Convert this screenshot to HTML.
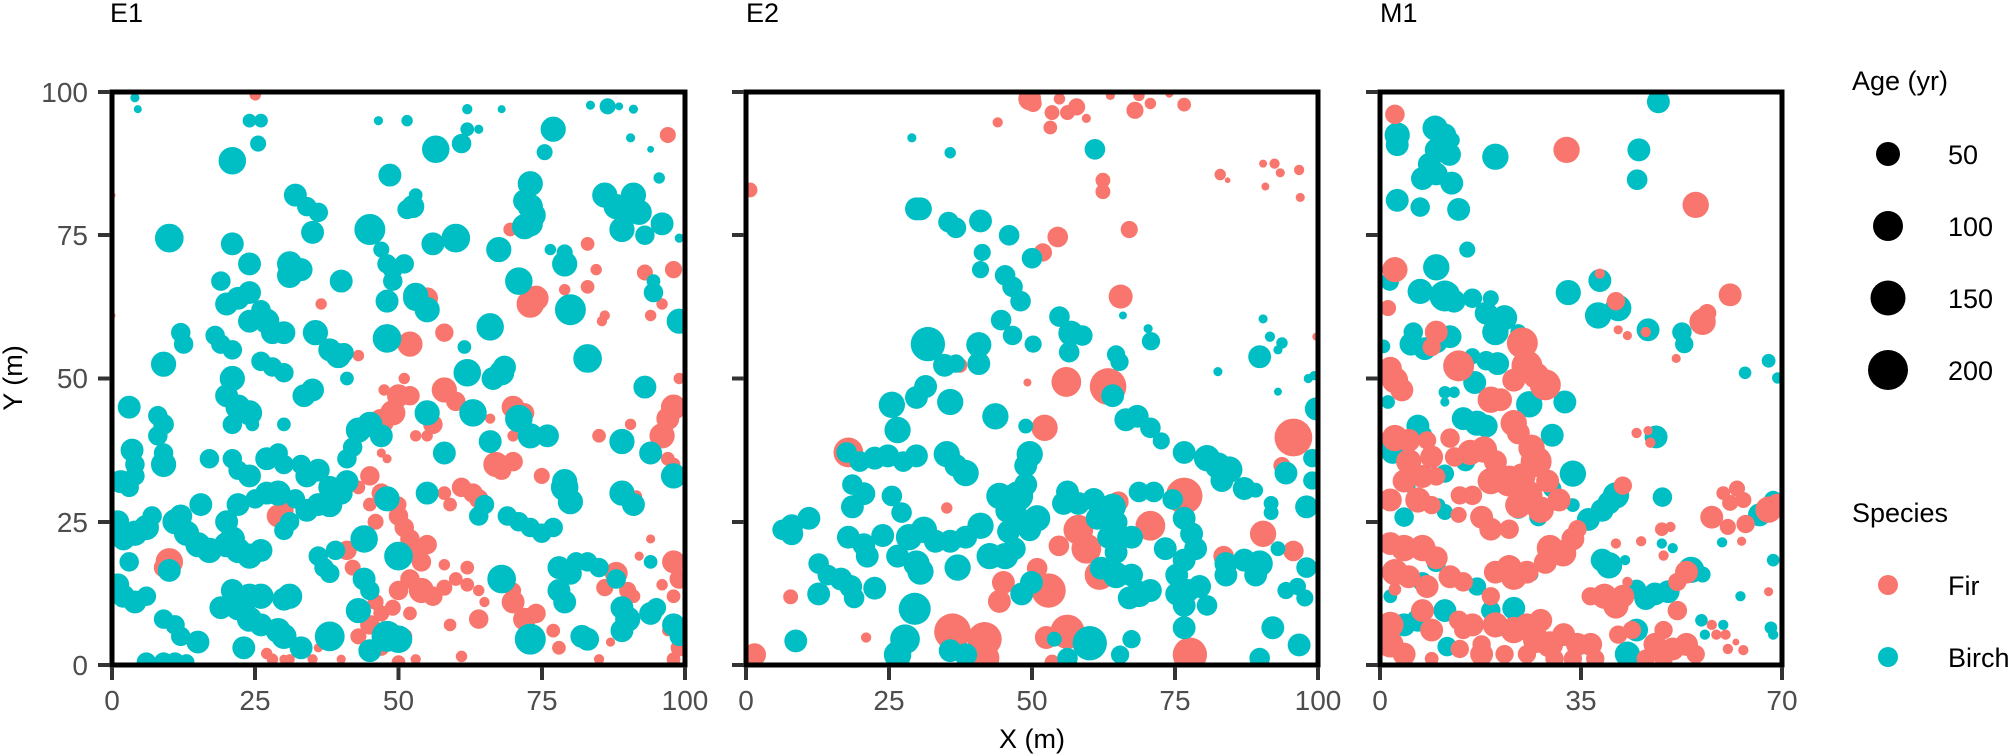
<!DOCTYPE html>
<html><head><meta charset="utf-8"><style>
html,body{margin:0;padding:0;background:#fff;}
svg{display:block;font-family:"Liberation Sans",Arial,sans-serif;}
.t{fill:#4d4d4d;font-size:28px;}
.h{fill:#000;font-size:27px;}
.r circle{fill:#F8766D}
.b circle{fill:#00BFC4}
.e1 .r circle{stroke:#F8766D;stroke-width:0.4}
.e1 .b circle{stroke:#00BFC4;stroke-width:0.4}
</style></head><body>
<svg width="2012" height="756" viewBox="0 0 2012 756" xmlns="http://www.w3.org/2000/svg">
<defs>
<clipPath id="c1"><rect x="112" y="92" width="573" height="573"/></clipPath>
<clipPath id="c2"><rect x="746" y="92" width="572" height="573"/></clipPath>
<clipPath id="c3"><rect x="1380" y="92" width="402" height="573"/></clipPath>
</defs>
<rect width="2012" height="756" fill="#fff"/>

<!-- E1 -->
<g clip-path="url(#c1)"><g class="e1" transform="translate(112,665) scale(5.73,-5.73)">
<g class="r">
<circle cx="25" cy="99.5" r="0.8"/><circle cx="0" cy="82" r="0.4"/><circle cx="0" cy="61" r="0.4"/><circle cx="97" cy="92.5" r="1.2"/>
<circle cx="83" cy="73.5" r="1"/><circle cx="84.5" cy="69" r="0.8"/><circle cx="83" cy="66" r="1"/><circle cx="79" cy="65.5" r="0.8"/><circle cx="93" cy="68.5" r="1.2"/><circle cx="98" cy="69" r="1.3"/><circle cx="94" cy="61" r="0.8"/><circle cx="96" cy="63" r="0.8"/><circle cx="86" cy="61" r="0.7"/><circle cx="85.5" cy="60" r="0.7"/>
<circle cx="73" cy="63" r="2.2"/><circle cx="74" cy="64" r="2"/><circle cx="69.5" cy="76" r="1"/>
<circle cx="36.5" cy="63" r="0.8"/><circle cx="55" cy="64" r="1.7"/><circle cx="52" cy="56" r="2"/><circle cx="58" cy="58" r="1.4"/><circle cx="43" cy="54" r="0.8"/><circle cx="39" cy="55" r="0.8"/>
<circle cx="51" cy="50" r="0.8"/><circle cx="47.5" cy="48" r="0.8"/><circle cx="50" cy="47" r="1.8"/><circle cx="52" cy="47" r="1.5"/><circle cx="58" cy="48" r="2"/><circle cx="60" cy="46" r="1.5"/><circle cx="55" cy="44" r="1.8"/><circle cx="49" cy="44" r="2"/><circle cx="47" cy="42.5" r="2"/><circle cx="56" cy="42" r="1.5"/><circle cx="53" cy="40" r="0.8"/><circle cx="55" cy="40" r="0.8"/><circle cx="66" cy="43" r="0.7"/>
<circle cx="70" cy="45" r="1.8"/><circle cx="72" cy="44" r="1.5"/><circle cx="70" cy="40" r="0.8"/><circle cx="70" cy="35.5" r="1.5"/><circle cx="68" cy="34" r="1.5"/><circle cx="67" cy="35" r="2"/><circle cx="75" cy="33" r="1.2"/>
<circle cx="85" cy="40" r="1"/><circle cx="89" cy="40" r="1"/><circle cx="90.5" cy="42" r="0.8"/><circle cx="97" cy="43" r="1.8"/><circle cx="96" cy="40" r="2"/><circle cx="98" cy="45" r="2"/><circle cx="99" cy="50" r="0.8"/><circle cx="98" cy="35" r="1"/><circle cx="97" cy="36" r="1"/><circle cx="91.5" cy="29.5" r="0.8"/>
<circle cx="29" cy="26" r="1.8"/><circle cx="30" cy="27" r="1.5"/>
<circle cx="43" cy="31" r="1"/><circle cx="45" cy="33" r="1.5"/><circle cx="47" cy="30" r="1.5"/><circle cx="45" cy="28" r="1"/><circle cx="50" cy="26" r="1.5"/><circle cx="51" cy="24" r="1.5"/><circle cx="52" cy="22" r="1.5"/><circle cx="53" cy="20" r="2"/><circle cx="55" cy="21" r="1.5"/><circle cx="54" cy="18" r="1.5"/><circle cx="52" cy="15" r="1.5"/><circle cx="54" cy="13" r="2"/><circle cx="56" cy="12" r="1.5"/><circle cx="50" cy="13" r="1.5"/><circle cx="46" cy="11" r="1.2"/><circle cx="47" cy="9" r="1.2"/><circle cx="49" cy="10" r="1.2"/><circle cx="52" cy="9" r="1"/><circle cx="48" cy="36" r="0.6"/><circle cx="47" cy="37" r="0.6"/><circle cx="50" cy="28" r="1.2"/><circle cx="46" cy="25" r="1.2"/><circle cx="58" cy="30" r="1"/><circle cx="59" cy="28" r="1"/><circle cx="61" cy="31" r="1.5"/><circle cx="63" cy="30" r="1.5"/><circle cx="64" cy="29" r="1.5"/>
<circle cx="41" cy="20" r="1.5"/><circle cx="42" cy="17" r="1.2"/><circle cx="45" cy="7" r="1.5"/><circle cx="43" cy="5" r="1.2"/><circle cx="47" cy="3" r="1.2"/><circle cx="51" cy="5" r="1.2"/><circle cx="50" cy="0.5" r="1"/><circle cx="53" cy="1" r="0.7"/><circle cx="58" cy="13.5" r="1.2"/><circle cx="60" cy="15" r="1"/><circle cx="62" cy="14" r="1"/><circle cx="64" cy="13" r="0.8"/><circle cx="58" cy="17.5" r="0.8"/><circle cx="62" cy="17" r="1"/><circle cx="65" cy="11" r="0.7"/>
<circle cx="64" cy="8" r="1.5"/><circle cx="59" cy="7" r="0.9"/><circle cx="61" cy="1.5" r="0.8"/><circle cx="70" cy="11" r="1.8"/><circle cx="72" cy="8" r="1.8"/><circle cx="74" cy="9" r="1.5"/><circle cx="77" cy="6" r="1"/><circle cx="78" cy="3" r="1"/><circle cx="70" cy="13" r="1.2"/>
<circle cx="10" cy="18" r="2.2"/><circle cx="9" cy="17" r="1.5"/>
<circle cx="27" cy="2" r="0.8"/><circle cx="28" cy="1" r="0.8"/><circle cx="30" cy="1" r="0.6"/><circle cx="31" cy="1" r="0.7"/><circle cx="35" cy="1" r="0.7"/><circle cx="36" cy="3" r="0.6"/><circle cx="40" cy="1" r="0.6"/>
<circle cx="86" cy="13.5" r="1.3"/><circle cx="88" cy="16" r="1.8"/><circle cx="90" cy="13" r="1.3"/><circle cx="87" cy="4" r="0.6"/><circle cx="85" cy="1" r="0.7"/><circle cx="92" cy="19" r="0.6"/><circle cx="94" cy="22" r="0.6"/><circle cx="98" cy="18" r="1.8"/><circle cx="99" cy="15" r="1.5"/><circle cx="99" cy="3" r="1.3"/><circle cx="98" cy="1" r="1"/><circle cx="98" cy="12" r="1"/><circle cx="97" cy="6" r="0.8"/><circle cx="96" cy="14" r="0.8"/><circle cx="91" cy="12" r="1"/>
</g>
<g class="b">
<circle cx="4" cy="99" r="0.6"/><circle cx="4.5" cy="97" r="0.5"/><circle cx="24" cy="95" r="1"/><circle cx="26" cy="95" r="1"/><circle cx="25.5" cy="91" r="1.2"/><circle cx="21" cy="88" r="2.2"/><circle cx="10" cy="74.5" r="2.3"/>
<circle cx="32" cy="82" r="1.8"/><circle cx="34" cy="80" r="1.5"/><circle cx="36" cy="79" r="1.5"/><circle cx="35" cy="75.5" r="1.8"/>
<circle cx="21" cy="73.5" r="1.8"/><circle cx="24" cy="70" r="1.8"/><circle cx="19" cy="67" r="1.5"/><circle cx="20" cy="63" r="1.8"/><circle cx="22" cy="64" r="1.8"/><circle cx="24" cy="65" r="1.8"/><circle cx="26" cy="62" r="1.5"/><circle cx="27" cy="60" r="2"/><circle cx="24" cy="60" r="1.8"/><circle cx="28" cy="58" r="1.8"/><circle cx="30" cy="58" r="1.8"/>
<circle cx="31" cy="70" r="2"/><circle cx="31" cy="68" r="2"/><circle cx="33" cy="69" r="1.8"/><circle cx="40" cy="67" r="1.8"/>
<circle cx="45" cy="76" r="2.5"/><circle cx="47" cy="72.5" r="1.2"/><circle cx="48" cy="70" r="1.5"/><circle cx="49" cy="67" r="1.5"/><circle cx="48" cy="63.5" r="1.8"/><circle cx="49" cy="69" r="1.5"/><circle cx="51" cy="70" r="1.5"/>
<circle cx="48.5" cy="85.5" r="1.8"/><circle cx="53" cy="82" r="1"/><circle cx="52.5" cy="80" r="1.8"/><circle cx="51.5" cy="79.5" r="1.5"/>
<circle cx="56.5" cy="90" r="2.2"/><circle cx="61" cy="91" r="1.5"/><circle cx="62" cy="93.5" r="1"/><circle cx="62" cy="97" r="0.7"/><circle cx="64" cy="93.5" r="0.6"/><circle cx="68" cy="97" r="0.5"/><circle cx="46.5" cy="95" r="0.6"/><circle cx="51.5" cy="95" r="0.8"/>
<circle cx="56" cy="73.5" r="1.8"/><circle cx="60" cy="74.5" r="2.3"/><circle cx="53" cy="64.5" r="2"/><circle cx="55" cy="62" r="2"/>
<circle cx="67.5" cy="72.5" r="2"/><circle cx="71" cy="67" r="2.2"/><circle cx="72" cy="76.5" r="2"/><circle cx="73" cy="77" r="2"/><circle cx="73" cy="80" r="2"/><circle cx="72" cy="81" r="1.8"/><circle cx="73" cy="84" r="2"/><circle cx="73.5" cy="78.5" r="2"/>
<circle cx="75.5" cy="89.5" r="1.2"/><circle cx="77" cy="93.5" r="2"/><circle cx="76.5" cy="72.5" r="0.8"/><circle cx="79" cy="70" r="2"/><circle cx="79" cy="72" r="1.2"/><circle cx="80" cy="62" r="2.5"/>
<circle cx="86" cy="82" r="2"/><circle cx="88" cy="80" r="2"/><circle cx="90" cy="79" r="2"/><circle cx="89" cy="76" r="2"/><circle cx="91" cy="82" r="2"/><circle cx="92" cy="79" r="2"/><circle cx="93" cy="75" r="1.5"/><circle cx="96" cy="77" r="1.8"/><circle cx="94.5" cy="65" r="1.5"/><circle cx="94.5" cy="67" r="1"/><circle cx="95.5" cy="85" r="0.8"/><circle cx="99" cy="74.5" r="0.6"/><circle cx="99" cy="60" r="2"/>
<circle cx="86.5" cy="97.5" r="1.2"/><circle cx="83.5" cy="97.7" r="0.6"/><circle cx="88.5" cy="97.5" r="0.5"/><circle cx="91" cy="97" r="0.6"/><circle cx="90.5" cy="92" r="0.6"/><circle cx="94" cy="90" r="0.4"/>
<circle cx="83" cy="53.5" r="2.3"/><circle cx="61.5" cy="55.5" r="1"/><circle cx="62" cy="51" r="2.2"/><circle cx="66" cy="59" r="2.2"/><circle cx="68" cy="51" r="2"/><circle cx="68.5" cy="52" r="1.8"/><circle cx="66.5" cy="50" r="1.8"/>
<circle cx="48" cy="57" r="2.3"/><circle cx="53" cy="64" r="2"/>
<circle cx="35.5" cy="58" r="2"/><circle cx="38" cy="55" r="1.8"/><circle cx="39.5" cy="54" r="2"/><circle cx="41" cy="50" r="1"/><circle cx="40.5" cy="54.5" r="1.5"/><circle cx="33.5" cy="47" r="1.8"/><circle cx="35" cy="48" r="1.8"/><circle cx="30" cy="51" r="1.5"/><circle cx="28" cy="52" r="1.5"/><circle cx="26" cy="53" r="1.5"/>
<circle cx="9" cy="52.5" r="2"/><circle cx="12.5" cy="56" r="1.5"/><circle cx="12" cy="58" r="1.5"/><circle cx="18" cy="57.5" r="1.5"/><circle cx="19" cy="56" r="1.5"/><circle cx="21" cy="55" r="1.5"/><circle cx="21" cy="50" r="2"/><circle cx="20" cy="47" r="1.8"/><circle cx="22" cy="45" r="2"/><circle cx="24" cy="44" r="2"/><circle cx="21" cy="42" r="1.5"/><circle cx="24.5" cy="42" r="1"/><circle cx="30" cy="42" r="1"/>
<circle cx="3" cy="45" r="1.8"/><circle cx="8" cy="43.5" r="1.5"/><circle cx="9" cy="42" r="1.6"/><circle cx="8" cy="40" r="1.5"/><circle cx="9" cy="37" r="1.5"/><circle cx="3.5" cy="37.5" r="1.8"/><circle cx="4" cy="35" r="1.5"/><circle cx="9" cy="35" r="2"/><circle cx="1.5" cy="32" r="1.8"/><circle cx="3" cy="31" r="1.5"/><circle cx="4" cy="33" r="1.5"/>
<circle cx="17" cy="36" r="1.5"/><circle cx="21" cy="36" r="1.5"/><circle cx="22" cy="34" r="1.5"/><circle cx="24" cy="33" r="1.8"/><circle cx="27" cy="36" r="1.8"/><circle cx="29" cy="37" r="1.5"/><circle cx="30" cy="35" r="1.5"/><circle cx="33" cy="35" r="1.5"/><circle cx="34" cy="33" r="1.8"/><circle cx="36" cy="34" r="1.8"/><circle cx="38" cy="31" r="1.8"/><circle cx="40" cy="30" r="1.8"/><circle cx="41" cy="32" r="1.8"/><circle cx="41" cy="36" r="1.5"/><circle cx="42" cy="38" r="1.5"/><circle cx="43" cy="41" r="2"/><circle cx="45" cy="42" r="2"/><circle cx="47" cy="40" r="1.8"/>
<circle cx="15.5" cy="28" r="1.8"/><circle cx="20" cy="25" r="1.8"/><circle cx="22" cy="28" r="1.8"/><circle cx="25" cy="29" r="1.5"/><circle cx="27" cy="30" r="1.8"/><circle cx="29" cy="30" r="2"/><circle cx="32" cy="29" r="1.5"/><circle cx="34" cy="27" r="1.8"/><circle cx="36" cy="28" r="1.8"/><circle cx="38" cy="28" r="2"/><circle cx="31" cy="25" r="1.5"/><circle cx="30" cy="23.5" r="1.5"/>
<circle cx="1" cy="25" r="1.8"/><circle cx="2" cy="22" r="1.8"/><circle cx="4" cy="23" r="2"/><circle cx="6" cy="24" r="2"/><circle cx="7" cy="26" r="1.5"/><circle cx="11" cy="25" r="2"/><circle cx="13" cy="23" r="2"/><circle cx="15" cy="21" r="2"/><circle cx="17" cy="20" r="2"/><circle cx="20" cy="21" r="2"/><circle cx="21" cy="22" r="2"/><circle cx="22" cy="20" r="2"/><circle cx="24" cy="19" r="2"/><circle cx="26" cy="20" r="1.8"/><circle cx="12" cy="26" r="1.8"/>
<circle cx="10" cy="16.5" r="1.8"/><circle cx="1" cy="14" r="1.8"/><circle cx="2" cy="12" r="1.8"/><circle cx="4" cy="11" r="1.8"/><circle cx="6" cy="12" r="1.5"/><circle cx="3" cy="18" r="1.5"/>
<circle cx="21" cy="13" r="1.8"/><circle cx="19" cy="10" r="1.8"/><circle cx="22" cy="10" r="2"/><circle cx="24" cy="12" r="2"/><circle cx="26" cy="12" r="2"/><circle cx="24" cy="8" r="2"/><circle cx="26" cy="7" r="1.8"/><circle cx="29" cy="6" r="2"/><circle cx="30" cy="5" r="2"/><circle cx="31" cy="12" r="2"/><circle cx="30" cy="11.5" r="1.8"/><circle cx="33" cy="3" r="1.8"/><circle cx="38" cy="5" r="2.4"/><circle cx="23" cy="3" r="1.8"/>
<circle cx="9" cy="8" r="1.5"/><circle cx="11" cy="7" r="1.5"/><circle cx="12" cy="5" r="1.5"/><circle cx="15" cy="4" r="1.8"/><circle cx="6" cy="0.5" r="1.5"/><circle cx="9" cy="0.5" r="1.5"/><circle cx="11" cy="0.5" r="1.5"/><circle cx="13" cy="0.5" r="1.2"/>
<circle cx="36" cy="19" r="1.5"/><circle cx="37" cy="17" r="1.5"/><circle cx="38" cy="16" r="1.5"/><circle cx="39" cy="20" r="1.5"/><circle cx="43" cy="9.5" r="2"/><circle cx="44" cy="15" r="1.8"/><circle cx="45" cy="13" r="1.5"/><circle cx="44" cy="22" r="2.2"/><circle cx="45" cy="2.5" r="1.8"/><circle cx="48" cy="5" r="2.5"/><circle cx="50" cy="4.5" r="2.2"/>
<circle cx="48" cy="29" r="2"/><circle cx="55" cy="30" r="1.8"/><circle cx="50" cy="19" r="2.3"/><circle cx="55" cy="44" r="2"/><circle cx="63" cy="44" r="2.2"/><circle cx="58" cy="37" r="1.8"/><circle cx="66" cy="39" r="1.8"/><circle cx="71" cy="43" r="2.2"/><circle cx="73" cy="40" r="2"/><circle cx="76" cy="40" r="1.8"/><circle cx="64" cy="26" r="1.5"/><circle cx="65" cy="28" r="1.5"/><circle cx="69" cy="26" r="1.5"/><circle cx="71" cy="25" r="1.5"/><circle cx="73" cy="24" r="1.5"/><circle cx="75" cy="23" r="1.5"/><circle cx="77" cy="24" r="1.5"/>
<circle cx="68" cy="15" r="2.3"/><circle cx="73" cy="4.5" r="2.5"/><circle cx="78" cy="17" r="1.8"/><circle cx="78" cy="13" r="1.8"/><circle cx="79" cy="11" r="1.8"/><circle cx="80" cy="16" r="1.8"/><circle cx="81" cy="18" r="1.5"/><circle cx="83" cy="18" r="1.5"/><circle cx="85" cy="17" r="1.5"/><circle cx="88" cy="15" r="1.5"/><circle cx="82" cy="5" r="1.8"/><circle cx="83" cy="4.5" r="1.8"/>
<circle cx="79" cy="31" r="2.2"/><circle cx="80" cy="28.5" r="2"/><circle cx="79" cy="32" r="2"/><circle cx="89" cy="30" r="2"/><circle cx="91" cy="28" r="1.8"/><circle cx="89" cy="39" r="2"/><circle cx="94" cy="37" r="1.8"/><circle cx="93" cy="48.5" r="1.8"/><circle cx="98" cy="33" r="2"/><circle cx="94" cy="18" r="1"/><circle cx="89" cy="10" r="1.8"/><circle cx="90" cy="8" r="2"/><circle cx="89" cy="6" r="1.8"/><circle cx="94" cy="9" r="1.8"/><circle cx="95" cy="10" r="1.5"/><circle cx="98" cy="7" r="1.8"/><circle cx="99" cy="5" r="1.5"/>
</g>
</g></g>

<!-- E2 -->
<g clip-path="url(#c2)"><g transform="translate(746,665) scale(5.72,-5.73)">
<g class="r">
<circle cx="49.6" cy="98.8" r="2"/><circle cx="50.2" cy="98" r="1.5"/><circle cx="54.8" cy="98.8" r="1"/><circle cx="53.5" cy="96.4" r="1.3"/><circle cx="53.2" cy="93.8" r="1.2"/><circle cx="57.8" cy="97.4" r="1.5"/><circle cx="56.2" cy="96.4" r="1.3"/><circle cx="59.5" cy="95.4" r="0.8"/><circle cx="63.7" cy="99.4" r="0.8"/><circle cx="68" cy="96.8" r="1.5"/><circle cx="68.7" cy="99.4" r="1"/><circle cx="70.7" cy="98" r="1"/><circle cx="74" cy="99.7" r="0.7"/><circle cx="76.6" cy="97.8" r="1.2"/>
<circle cx="44" cy="94.7" r="0.9"/><circle cx="0.7" cy="82.9" r="1.3"/><circle cx="62.4" cy="84.6" r="1.3"/><circle cx="62.4" cy="82.6" r="1.3"/>
<circle cx="82.9" cy="85.6" r="1"/><circle cx="84.2" cy="84.6" r="0.5"/><circle cx="90.4" cy="87.5" r="0.7"/><circle cx="92.4" cy="87.5" r="0.9"/><circle cx="93.4" cy="85.9" r="0.8"/><circle cx="96.7" cy="86.4" r="0.9"/><circle cx="90.8" cy="83.5" r="0.7"/><circle cx="96.9" cy="81.6" r="0.8"/>
<circle cx="54.5" cy="74.7" r="1.8"/><circle cx="51.9" cy="72" r="1.6"/><circle cx="67" cy="76" r="1.5"/><circle cx="65.5" cy="64.3" r="2.1"/><circle cx="99.7" cy="57.3" r="0.7"/><circle cx="37.4" cy="52.3" r="1.3"/>
<circle cx="56" cy="49.4" r="2.6"/><circle cx="63.3" cy="48.6" r="3.2"/><circle cx="49.2" cy="49.3" r="0.7"/><circle cx="52.2" cy="41.4" r="2.3"/><circle cx="95.7" cy="39.7" r="3.3"/><circle cx="93.7" cy="34.8" r="1.5"/><circle cx="17.9" cy="37.1" r="2.6"/><circle cx="35.1" cy="27.4" r="1"/>
<circle cx="76.6" cy="29.5" r="3.2"/><circle cx="65.1" cy="28.5" r="1.8"/><circle cx="70.7" cy="24.3" r="2.6"/><circle cx="58.1" cy="23.6" r="2.6"/><circle cx="59.5" cy="20.3" r="2.6"/><circle cx="61.8" cy="15.7" r="2.6"/><circle cx="54.7" cy="20.8" r="1.8"/>
<circle cx="90.4" cy="22.9" r="2.3"/><circle cx="95.7" cy="19.9" r="1.8"/><circle cx="83.5" cy="19" r="1.8"/><circle cx="50.9" cy="16.9" r="1.8"/><circle cx="52.9" cy="13" r="3"/><circle cx="45" cy="14.4" r="2"/><circle cx="44.3" cy="11.1" r="2"/>
<circle cx="7.8" cy="11.9" r="1.3"/><circle cx="21" cy="4.8" r="0.9"/><circle cx="36.1" cy="5.8" r="3.2"/><circle cx="41.7" cy="4.5" r="3"/><circle cx="41.7" cy="1.2" r="2.6"/><circle cx="37.7" cy="2.5" r="1.6"/><circle cx="56.2" cy="5.8" r="3"/><circle cx="52.5" cy="4.8" r="2"/><circle cx="53.5" cy="0.5" r="1.3"/><circle cx="77.6" cy="1.8" r="3"/><circle cx="1.5" cy="1.8" r="2"/>
</g>
<g class="b">
<circle cx="29" cy="92" r="0.8"/><circle cx="35.7" cy="89.4" r="1"/><circle cx="61" cy="90" r="1.8"/><circle cx="30.5" cy="79.6" r="2"/><circle cx="29.8" cy="79.6" r="2"/><circle cx="35.4" cy="77.3" r="1.8"/><circle cx="36.7" cy="76.3" r="1.8"/><circle cx="41" cy="77.5" r="2"/><circle cx="46" cy="75" r="1.8"/><circle cx="41.3" cy="72" r="1.5"/><circle cx="41" cy="69" r="1.5"/><circle cx="50" cy="71" r="1.8"/>
<circle cx="45.3" cy="68" r="1.8"/><circle cx="46.6" cy="66" r="1.8"/><circle cx="48" cy="63.5" r="1.8"/><circle cx="44.6" cy="60.2" r="1.8"/><circle cx="46.6" cy="57.5" r="1.7"/><circle cx="50.2" cy="56" r="1.5"/>
<circle cx="54.8" cy="60.8" r="1.8"/><circle cx="56.8" cy="57.9" r="2.2"/><circle cx="58.8" cy="57.5" r="1.8"/><circle cx="56.5" cy="54.6" r="1.8"/><circle cx="65.9" cy="61" r="0.7"/><circle cx="70.3" cy="58.7" r="0.8"/><circle cx="70.8" cy="56.5" r="1.6"/><circle cx="64.7" cy="54.2" r="1.6"/><circle cx="65.3" cy="52.9" r="1.6"/>
<circle cx="90.4" cy="60.4" r="0.8"/><circle cx="91.6" cy="57.3" r="0.9"/><circle cx="93.7" cy="56.2" r="1"/><circle cx="93" cy="55" r="0.8"/><circle cx="89.8" cy="53.8" r="2"/><circle cx="82.5" cy="51.2" r="0.8"/><circle cx="93" cy="47.7" r="0.7"/><circle cx="98.3" cy="50" r="0.8"/><circle cx="99.3" cy="50.5" r="0.8"/><circle cx="99.7" cy="44.7" r="2"/>
<circle cx="31.8" cy="56" r="3"/><circle cx="34.7" cy="52.3" r="2"/><circle cx="36.7" cy="52.6" r="1.6"/><circle cx="40.7" cy="55.9" r="2.2"/><circle cx="40.7" cy="52.6" r="2"/><circle cx="31.4" cy="48.6" r="2"/><circle cx="29.8" cy="46.7" r="2"/><circle cx="25.5" cy="45.4" r="2.3"/><circle cx="35.7" cy="45.9" r="2.3"/><circle cx="43.6" cy="43.4" r="2.3"/><circle cx="48.9" cy="41.7" r="1.3"/><circle cx="49.6" cy="36.8" r="2.3"/><circle cx="48.9" cy="34.8" r="2"/>
<circle cx="26.5" cy="41" r="2.3"/><circle cx="17.6" cy="37.1" r="1.8"/><circle cx="19.9" cy="35.5" r="1.8"/><circle cx="22.5" cy="36.1" r="2"/><circle cx="24.8" cy="36.5" r="2"/><circle cx="27.5" cy="35.5" r="1.8"/><circle cx="29.8" cy="36.5" r="2"/><circle cx="35.1" cy="36.8" r="2.3"/><circle cx="36.7" cy="34.8" r="2"/><circle cx="38.4" cy="33.5" r="2.3"/>
<circle cx="18.6" cy="31.5" r="1.8"/><circle cx="20.6" cy="29.9" r="2"/><circle cx="18.6" cy="27.6" r="2"/><circle cx="25.5" cy="29.5" r="1.8"/><circle cx="27.2" cy="26.6" r="1.8"/>
<circle cx="8" cy="24.3" r="2"/><circle cx="11" cy="25.6" r="2"/><circle cx="6.4" cy="23.6" r="1.8"/><circle cx="8" cy="22.9" r="2"/>
<circle cx="17.9" cy="22.3" r="2"/><circle cx="20.6" cy="21" r="2"/><circle cx="21.2" cy="19" r="2"/><circle cx="23.9" cy="22.6" r="2"/><circle cx="26.5" cy="19" r="2"/><circle cx="28.5" cy="22.3" r="2.3"/><circle cx="31.1" cy="23.6" r="2.3"/><circle cx="33.1" cy="21.6" r="2"/><circle cx="35.7" cy="21.6" r="2"/><circle cx="38.4" cy="22.3" r="2"/><circle cx="41" cy="24.3" r="2.3"/><circle cx="29.8" cy="17.7" r="2.3"/><circle cx="30.5" cy="16.3" r="2.3"/><circle cx="37" cy="17" r="2.3"/>
<circle cx="44.3" cy="29.5" r="2.3"/><circle cx="47.6" cy="29.5" r="2.6"/><circle cx="48.9" cy="31.5" r="2"/><circle cx="45.6" cy="26.9" r="2"/><circle cx="46.9" cy="26.2" r="2.3"/><circle cx="50.9" cy="25.6" r="2.3"/><circle cx="49.6" cy="23.6" r="2"/><circle cx="45.9" cy="23.3" r="2"/>
<circle cx="42.6" cy="19" r="2.3"/><circle cx="45.3" cy="19" r="2.3"/><circle cx="46.9" cy="20.3" r="2"/>
<circle cx="12.7" cy="17.7" r="1.8"/><circle cx="14.3" cy="15.7" r="1.8"/><circle cx="16.6" cy="15" r="2"/><circle cx="18.3" cy="13.7" r="2"/><circle cx="18.9" cy="11.7" r="1.8"/><circle cx="12.7" cy="12.4" r="2"/><circle cx="22.5" cy="13.4" r="2"/><circle cx="8.7" cy="4.2" r="2"/>
<circle cx="29.5" cy="9.8" r="2.8"/><circle cx="27.8" cy="4.5" r="2.6"/><circle cx="26.5" cy="1.8" r="2.4"/><circle cx="35.7" cy="2.5" r="2"/><circle cx="38.4" cy="1.8" r="2"/><circle cx="49.9" cy="14.4" r="2"/><circle cx="48.2" cy="12.4" r="2"/>
<circle cx="53.9" cy="4.5" r="1.3"/><circle cx="60.1" cy="3.8" r="3"/><circle cx="56.2" cy="1.2" r="1.8"/>
<circle cx="56.2" cy="30.2" r="2"/><circle cx="55.5" cy="28.2" r="2"/><circle cx="58.1" cy="28.2" r="2"/><circle cx="60.8" cy="28.9" r="2"/><circle cx="61.4" cy="25.6" r="2"/><circle cx="64.1" cy="27.6" r="2.3"/><circle cx="64.7" cy="24.9" r="2"/><circle cx="68.7" cy="30.2" r="1.8"/><circle cx="71.3" cy="30.2" r="1.8"/><circle cx="74.6" cy="28.9" r="1.8"/>
<circle cx="64.1" cy="47" r="2"/><circle cx="66.4" cy="42.8" r="2"/><circle cx="68.4" cy="43.4" r="2"/><circle cx="70.7" cy="41.4" r="1.8"/><circle cx="72.6" cy="39.1" r="1.5"/>
<circle cx="76.6" cy="37.1" r="2"/><circle cx="80.6" cy="36.1" r="2.3"/><circle cx="82.5" cy="34.8" r="2.3"/><circle cx="84.5" cy="34.1" r="2.3"/><circle cx="83.2" cy="32.2" r="2"/><circle cx="87.1" cy="30.8" r="2"/><circle cx="89.1" cy="30.5" r="1.3"/>
<circle cx="91.8" cy="28.2" r="1.3"/><circle cx="91.8" cy="26.6" r="1.3"/><circle cx="94.4" cy="33.5" r="2"/><circle cx="99" cy="36.1" r="1.6"/><circle cx="99" cy="32.2" r="1.6"/><circle cx="98" cy="27.6" r="2"/>
<circle cx="63.4" cy="22.3" r="2"/><circle cx="64.7" cy="19.7" r="2"/><circle cx="65.4" cy="22.3" r="2"/><circle cx="67.4" cy="22.3" r="2"/><circle cx="62.1" cy="16.9" r="2"/><circle cx="64.7" cy="15.7" r="2.3"/><circle cx="67.4" cy="15.7" r="2"/><circle cx="68.7" cy="12.4" r="2.3"/><circle cx="67" cy="11.7" r="2"/><circle cx="70.7" cy="13" r="2"/>
<circle cx="73.3" cy="20.3" r="2"/><circle cx="76.6" cy="25.6" r="2"/><circle cx="77.9" cy="22.9" r="2"/><circle cx="78.6" cy="20.3" r="2"/><circle cx="76.6" cy="18.3" r="2"/><circle cx="75.3" cy="15.7" r="2"/><circle cx="75.3" cy="12.4" r="2"/><circle cx="77.3" cy="13" r="2"/><circle cx="79.3" cy="13.7" r="2"/><circle cx="76.6" cy="10.4" r="2"/><circle cx="80.6" cy="10.4" r="1.8"/><circle cx="76.6" cy="6.5" r="2"/>
<circle cx="67.4" cy="4.5" r="1.6"/><circle cx="65.4" cy="1.8" r="1.6"/>
<circle cx="83.9" cy="17.7" r="2"/><circle cx="83.9" cy="15.7" r="2"/><circle cx="87.1" cy="18.3" r="2"/><circle cx="89.8" cy="17.7" r="2.3"/><circle cx="89.1" cy="15.7" r="2"/><circle cx="93" cy="20.3" r="1.3"/>
<circle cx="94.4" cy="13" r="1.5"/><circle cx="96.4" cy="13.7" r="1.5"/><circle cx="97.7" cy="11.7" r="1.5"/><circle cx="98" cy="17" r="1.8"/><circle cx="92.1" cy="6.5" r="2"/><circle cx="96.7" cy="3.5" r="2"/><circle cx="89.8" cy="1.2" r="1.8"/>
</g>
</g></g>

<!-- M1 -->
<g clip-path="url(#c3)"><g transform="translate(1380,665) scale(5.74,-5.73)">
<g class="b">
<circle cx="48.5" cy="98.3" r="2"/><circle cx="9.6" cy="93.7" r="2.2"/><circle cx="11.3" cy="92.5" r="2"/><circle cx="12.5" cy="91.6" r="1.4"/><circle cx="3" cy="92.5" r="2.2"/><circle cx="3" cy="90.8" r="2"/><circle cx="9.8" cy="89.9" r="2"/><circle cx="12.1" cy="89.1" r="2"/><circle cx="8.6" cy="87.4" r="2"/><circle cx="7.4" cy="84.9" r="2"/><circle cx="9.8" cy="85.7" r="2"/><circle cx="12.5" cy="84.1" r="2"/><circle cx="3" cy="81.1" r="2"/><circle cx="7" cy="79.9" r="1.7"/><circle cx="13.7" cy="79.5" r="2"/>
<circle cx="20.1" cy="88.7" r="2.3"/><circle cx="45.1" cy="89.9" r="2"/><circle cx="44.8" cy="84.7" r="1.8"/><circle cx="15.2" cy="72.5" r="1.4"/><circle cx="1.7" cy="66.9" r="1.6"/><circle cx="9.8" cy="69.4" r="2.3"/>
<circle cx="7" cy="65.2" r="2.2"/><circle cx="11.3" cy="64.4" r="2.7"/><circle cx="12.9" cy="63.5" r="2"/><circle cx="16.1" cy="64" r="1.7"/><circle cx="19.3" cy="64" r="1.4"/><circle cx="18.5" cy="61.4" r="2"/><circle cx="21.7" cy="60.6" r="2.2"/><circle cx="20.1" cy="58.1" r="2.3"/><circle cx="24.1" cy="58.1" r="1.4"/>
<circle cx="5.8" cy="58.1" r="1.7"/><circle cx="5.4" cy="56" r="2"/><circle cx="7.8" cy="55.2" r="2"/><circle cx="9.8" cy="56.4" r="2"/><circle cx="12.2" cy="57.3" r="2"/><circle cx="0.6" cy="55.6" r="1.2"/><circle cx="2.2" cy="49.3" r="1"/><circle cx="1.4" cy="45.9" r="1.2"/>
<circle cx="16.1" cy="53.9" r="1.4"/><circle cx="18.5" cy="53.1" r="1.7"/><circle cx="20.5" cy="52.6" r="2"/><circle cx="16.5" cy="49.3" r="2"/><circle cx="11.3" cy="47.6" r="1.1"/><circle cx="12.9" cy="47.6" r="1"/><circle cx="11.3" cy="45.9" r="0.8"/>
<circle cx="26" cy="45.5" r="2.3"/><circle cx="32.2" cy="45.9" r="2"/><circle cx="14.5" cy="43" r="2"/><circle cx="16.9" cy="42.2" r="2.2"/><circle cx="18.5" cy="41.7" r="2"/><circle cx="6.6" cy="41.7" r="2"/><circle cx="7.4" cy="40.1" r="1.7"/>
<circle cx="1.4" cy="38" r="1.6"/><circle cx="2.2" cy="37.1" r="2"/><circle cx="14.9" cy="35.5" r="1.7"/><circle cx="11.3" cy="33.4" r="1.6"/>
<circle cx="30" cy="40.1" r="2"/><circle cx="33.6" cy="33.4" r="2.3"/><circle cx="30" cy="30.8" r="1.6"/><circle cx="27.6" cy="25.8" r="1.6"/><circle cx="33.6" cy="27.9" r="1.2"/><circle cx="36.3" cy="25.4" r="2"/>
<circle cx="5" cy="31.3" r="1.2"/><circle cx="4.2" cy="25.8" r="1.7"/><circle cx="11.3" cy="26.7" r="1.4"/><circle cx="10.2" cy="27.9" r="1.2"/>
<circle cx="41.1" cy="29.6" r="2.3"/><circle cx="39.9" cy="28.3" r="2"/><circle cx="38.7" cy="27" r="2"/><circle cx="49.2" cy="29.3" r="1.7"/>
<circle cx="67.7" cy="53.1" r="1.2"/><circle cx="63.6" cy="51" r="1.1"/><circle cx="69.3" cy="50.1" r="1"/>
<circle cx="52.6" cy="58.1" r="1.7"/><circle cx="53" cy="56" r="1.6"/><circle cx="46.7" cy="58.5" r="2"/><circle cx="38" cy="61" r="2.3"/><circle cx="41.5" cy="62.3" r="2.3"/><circle cx="38.3" cy="67.1" r="2"/><circle cx="32.8" cy="65" r="2.2"/><circle cx="48.1" cy="39.8" r="2"/>
<circle cx="39.9" cy="17.4" r="2.3"/><circle cx="38.7" cy="18.3" r="2"/><circle cx="42.7" cy="18.3" r="0.9"/>
<circle cx="44.7" cy="13.2" r="1.7"/><circle cx="47.9" cy="12.4" r="2"/><circle cx="50.2" cy="12.8" r="2"/><circle cx="46.3" cy="11.6" r="2"/>
<circle cx="49.1" cy="21.2" r="0.9"/><circle cx="51" cy="20.4" r="0.9"/><circle cx="54.2" cy="16.6" r="2.3"/><circle cx="56.2" cy="15.8" r="1.4"/>
<circle cx="59.6" cy="21.4" r="0.9"/><circle cx="62.8" cy="12" r="0.9"/><circle cx="68.5" cy="18.3" r="1.1"/><circle cx="56" cy="7.8" r="1.1"/><circle cx="56.6" cy="5.3" r="0.9"/><circle cx="68.1" cy="6.5" r="1.1"/><circle cx="68.5" cy="5.3" r="0.9"/>
<circle cx="44.7" cy="6.1" r="2"/><circle cx="43.1" cy="1.9" r="2.2"/><circle cx="59.8" cy="7" r="0.9"/><circle cx="66.1" cy="26.2" r="2"/><circle cx="68.5" cy="28.8" r="1.6"/>
<circle cx="4.2" cy="7" r="2"/><circle cx="6.6" cy="7.8" r="2"/><circle cx="11.3" cy="9.5" r="2"/><circle cx="11.7" cy="3.2" r="1.7"/><circle cx="19.3" cy="9.5" r="1.7"/><circle cx="23.3" cy="9.9" r="2"/><circle cx="9.8" cy="17.9" r="1.7"/><circle cx="7.4" cy="14.5" r="1.7"/><circle cx="1.8" cy="12" r="1.2"/><circle cx="16.9" cy="13.7" r="1.6"/><circle cx="26.4" cy="15.8" r="1.2"/><circle cx="24.1" cy="27.1" r="1.6"/>
</g>
<g class="r">
<circle cx="2.6" cy="96.1" r="1.7"/><circle cx="32.5" cy="89.9" r="2.3"/><circle cx="55" cy="80.3" r="2.3"/><circle cx="61" cy="64.6" r="2"/><circle cx="56.2" cy="59.9" r="2.3"/><circle cx="57" cy="61.4" r="1.6"/>
<circle cx="2.6" cy="69" r="2.2"/><circle cx="1.4" cy="62.3" r="1.4"/><circle cx="38.3" cy="68.3" r="0.9"/><circle cx="41.1" cy="63.5" r="1.6"/><circle cx="41.5" cy="58.5" r="0.8"/><circle cx="43.1" cy="57.5" r="0.8"/><circle cx="46.3" cy="58.1" r="0.9"/><circle cx="51.6" cy="53.5" r="0.8"/>
<circle cx="44.7" cy="40.5" r="0.9"/><circle cx="46.7" cy="40.9" r="0.8"/><circle cx="47.1" cy="38.8" r="0.9"/>
<circle cx="59.8" cy="30" r="1.2"/><circle cx="62.2" cy="30.8" r="1.4"/><circle cx="61" cy="28.3" r="1.4"/><circle cx="63.3" cy="28.8" r="1.4"/><circle cx="57.8" cy="25.8" r="2"/><circle cx="60.6" cy="24.1" r="1.4"/><circle cx="63.7" cy="24.6" r="1.6"/><circle cx="67.7" cy="27.1" r="2.3"/><circle cx="69.3" cy="27.9" r="2"/><circle cx="63" cy="21.6" r="0.8"/><circle cx="67.7" cy="12.8" r="0.8"/>
<circle cx="45.5" cy="21.6" r="0.9"/><circle cx="41.1" cy="21.2" r="0.9"/><circle cx="49.1" cy="23.7" r="1.2"/><circle cx="50.6" cy="24.1" r="0.9"/><circle cx="49.4" cy="19.1" r="0.9"/><circle cx="51.8" cy="9.5" r="1.7"/><circle cx="53.4" cy="16.2" r="2"/><circle cx="42.3" cy="31.3" r="1.6"/>
<circle cx="57.8" cy="7" r="0.9"/><circle cx="58.6" cy="5.3" r="0.9"/><circle cx="60.2" cy="5.3" r="0.9"/><circle cx="60.6" cy="2.8" r="0.9"/><circle cx="63.3" cy="2.6" r="0.9"/><circle cx="62" cy="4" r="0.6"/>
<circle cx="47.9" cy="3.6" r="2"/><circle cx="49.4" cy="6.1" r="1.6"/><circle cx="51" cy="2.8" r="2"/><circle cx="53.4" cy="3.6" r="2"/><circle cx="55" cy="1.9" r="1.6"/><circle cx="46.3" cy="1.1" r="1.6"/><circle cx="49.4" cy="1.1" r="1.6"/>
<circle cx="41.5" cy="5.3" r="1.6"/><circle cx="43.9" cy="6.1" r="1.6"/><circle cx="36.7" cy="12" r="1.6"/><circle cx="39.1" cy="12" r="2.2"/><circle cx="41.1" cy="10.3" r="2.2"/><circle cx="42.3" cy="12" r="2"/><circle cx="43.1" cy="14.5" r="0.9"/><circle cx="51.8" cy="14.5" r="1.6"/>
<circle cx="24.8" cy="56.2" r="2.7"/><circle cx="25.6" cy="52.2" r="2.7"/><circle cx="27.2" cy="50.5" r="2.3"/><circle cx="28.8" cy="48.9" r="2.7"/><circle cx="23.3" cy="49.7" r="2"/><circle cx="13.7" cy="52.2" r="2.7"/><circle cx="9.8" cy="58.1" r="2"/><circle cx="9" cy="55.5" r="1.6"/><circle cx="19.3" cy="46.3" r="2.3"/><circle cx="21" cy="46.3" r="2"/><circle cx="24.1" cy="40.5" r="2"/><circle cx="23.3" cy="42.2" r="2.3"/>
<circle cx="1.8" cy="51.8" r="2"/><circle cx="2.6" cy="49.7" r="2.3"/><circle cx="3.8" cy="48" r="2"/>
<circle cx="12.2" cy="39.6" r="1.7"/><circle cx="9" cy="36.3" r="2"/><circle cx="13" cy="36.3" r="1.7"/><circle cx="15.7" cy="37.1" r="2.2"/><circle cx="18.1" cy="37.6" r="2.3"/><circle cx="20.1" cy="35.5" r="2"/><circle cx="19.3" cy="32.1" r="2.3"/><circle cx="22.5" cy="32.1" r="2.7"/><circle cx="24.8" cy="32.9" r="2.3"/><circle cx="27.2" cy="35.5" r="2.7"/><circle cx="26.4" cy="37.9" r="2.3"/><circle cx="29.2" cy="32.1" r="2"/><circle cx="25.6" cy="29.6" r="2.7"/><circle cx="24.1" cy="27.9" r="2.3"/><circle cx="28" cy="27.1" r="2.3"/><circle cx="31.2" cy="28.8" r="2"/>
<circle cx="5" cy="39.2" r="2"/><circle cx="2.6" cy="39.6" r="2.3"/><circle cx="8.2" cy="39.2" r="1.6"/><circle cx="5" cy="35.5" r="2.2"/><circle cx="7.4" cy="32.9" r="2"/><circle cx="9.8" cy="32.9" r="1.6"/><circle cx="4.2" cy="32.1" r="2"/><circle cx="1.8" cy="28.8" r="2"/><circle cx="6.6" cy="28.8" r="2.2"/><circle cx="9" cy="27.9" r="1.6"/><circle cx="13.9" cy="29.6" r="1.6"/><circle cx="16.1" cy="29.6" r="1.7"/><circle cx="13.7" cy="26.2" r="1.4"/>
<circle cx="17.7" cy="25.8" r="2"/><circle cx="19.3" cy="23.7" r="2"/><circle cx="22.5" cy="23.7" r="1.7"/><circle cx="29.6" cy="20.4" r="2.3"/><circle cx="31.9" cy="19.5" r="2.3"/><circle cx="28.8" cy="17.9" r="2"/><circle cx="33.6" cy="22" r="2"/><circle cx="34.4" cy="23.7" r="1.6"/>
<circle cx="1.8" cy="21.2" r="2"/><circle cx="4.2" cy="20.4" r="2.3"/><circle cx="7.4" cy="20.4" r="2.3"/><circle cx="9.8" cy="18.7" r="2"/><circle cx="2.6" cy="16.2" r="2.3"/><circle cx="5" cy="15.4" r="2"/><circle cx="8.2" cy="13.7" r="2"/><circle cx="2.6" cy="13.2" r="1.1"/><circle cx="12.2" cy="15.4" r="2"/><circle cx="14.5" cy="14.5" r="1.7"/>
<circle cx="20.1" cy="16.2" r="2"/><circle cx="22.5" cy="17" r="2.2"/><circle cx="23.3" cy="15.4" r="2.3"/><circle cx="25.6" cy="16.2" r="2"/><circle cx="19.3" cy="12" r="1.6"/>
<circle cx="1.8" cy="7" r="2.3"/><circle cx="1.8" cy="3.6" r="2.3"/><circle cx="4.2" cy="1.9" r="2"/><circle cx="7.4" cy="9.5" r="2"/><circle cx="9" cy="6.1" r="2"/><circle cx="13.7" cy="7.8" r="1.7"/><circle cx="14.5" cy="6.1" r="1.6"/><circle cx="16.1" cy="7" r="2"/><circle cx="17.7" cy="3.6" r="1.6"/><circle cx="13.9" cy="2.8" r="1.6"/><circle cx="9" cy="1.1" r="1.2"/>
<circle cx="20.1" cy="7" r="2.2"/><circle cx="23.3" cy="6.1" r="2.3"/><circle cx="25.6" cy="7" r="2"/><circle cx="28" cy="7.8" r="2"/><circle cx="27.2" cy="4.4" r="2.3"/><circle cx="29.6" cy="3.6" r="2.3"/><circle cx="32" cy="5.3" r="2"/><circle cx="34.4" cy="3.6" r="2"/><circle cx="36.7" cy="3.6" r="2"/><circle cx="33.6" cy="1.1" r="1.6"/><circle cx="37.5" cy="1.1" r="1.6"/><circle cx="25.6" cy="1.9" r="1.6"/><circle cx="21.7" cy="1.9" r="1.6"/><circle cx="30.4" cy="1.1" r="1.6"/><circle cx="17.7" cy="1.9" r="2"/>
</g>
</g></g>

<!-- frames -->
<g fill="none" stroke="#000" stroke-width="5">
<rect x="112" y="92" width="573" height="573"/>
<rect x="746" y="92" width="572" height="573"/>
<rect x="1380" y="92" width="402" height="573"/>
</g>
<!-- ticks -->
<g stroke="#333" stroke-width="4">
<path d="M98 92H110M98 235H110M98 378.5H110M98 522H110M98 665H110"/>
<path d="M732 92H744M732 235H744M732 378.5H744M732 522H744M732 665H744"/>
<path d="M1366 92H1378M1366 235H1378M1366 378.5H1378M1366 522H1378M1366 665H1378"/>
<path d="M112 667V680M255 667V680M398.5 667V680M542 667V680M685 667V680"/>
<path d="M746 667V680M889 667V680M1032 667V680M1175 667V680M1318 667V680"/>
<path d="M1380 667V680M1581 667V680M1782 667V680"/>
</g>
<g class="t" text-anchor="end">
<text x="88" y="102">100</text><text x="88" y="245">75</text><text x="88" y="388">50</text><text x="88" y="532">25</text><text x="88" y="675">0</text>
</g>
<g class="t" text-anchor="middle">
<text x="112" y="710">0</text><text x="255" y="710">25</text><text x="398.5" y="710">50</text><text x="542" y="710">75</text><text x="685" y="710">100</text>
<text x="746" y="710">0</text><text x="889" y="710">25</text><text x="1032" y="710">50</text><text x="1175" y="710">75</text><text x="1318" y="710">100</text>
<text x="1380" y="710">0</text><text x="1581" y="710">35</text><text x="1782" y="710">70</text>
</g>
<g class="h">
<text x="110" y="22">E1</text><text x="746" y="22">E2</text><text x="1380" y="22">M1</text>
<text x="1032" y="748" text-anchor="middle">X (m)</text>
<text transform="translate(22,378) rotate(-90)" text-anchor="middle">Y (m)</text>
<text x="1852" y="90">Age (yr)</text>
<text x="1852" y="522">Species</text>
<text x="1948" y="164">50</text><text x="1948" y="236">100</text><text x="1948" y="308">150</text><text x="1948" y="380">200</text>
<text x="1948" y="595">Fir</text><text x="1948" y="667">Birch</text>
</g>
<circle cx="1888" cy="154" r="12" fill="#000"/>
<circle cx="1888" cy="226" r="15" fill="#000"/>
<circle cx="1888" cy="298" r="17.5" fill="#000"/>
<circle cx="1888" cy="370" r="20" fill="#000"/>
<circle cx="1888" cy="585" r="10" fill="#F8766D"/>
<circle cx="1888" cy="657" r="10" fill="#00BFC4"/>
</svg>
</body></html>
